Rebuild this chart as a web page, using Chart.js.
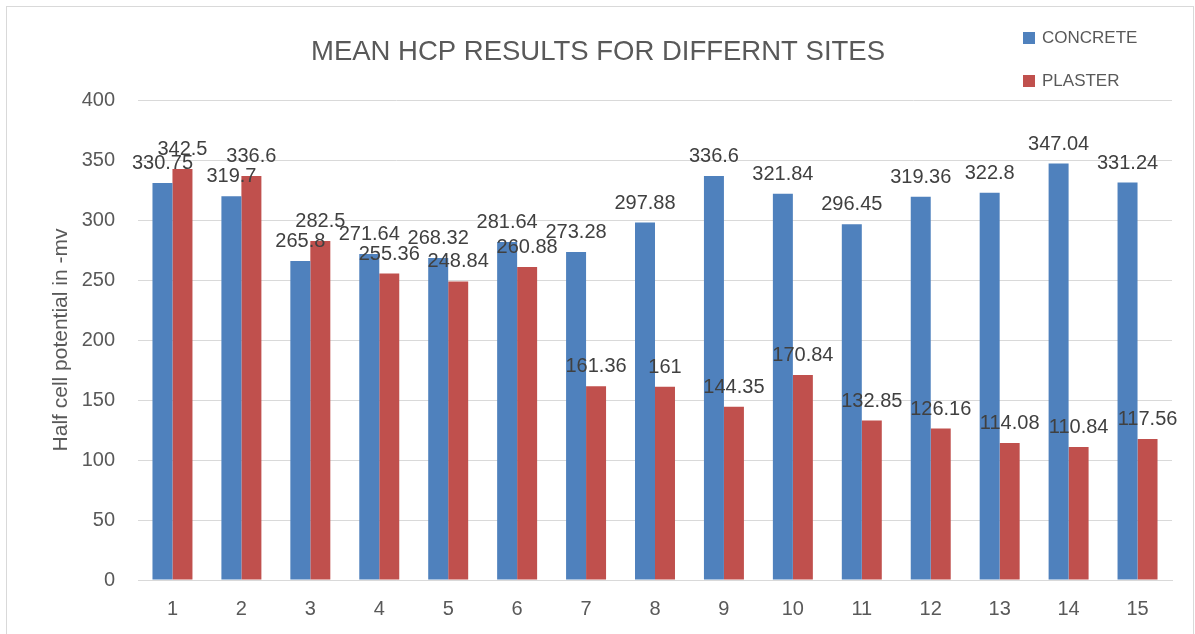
<!DOCTYPE html>
<html>
<head>
<meta charset="utf-8">
<script src="https://cdn.jsdelivr.net/npm/chart.js@4/dist/chart.umd.min.js"></script>
<style>
  html, body { margin: 0; padding: 0; background: #fff; }
  canvas { display: block; }
</style>
</head>
<body>
<canvas id="hcpChart" width="1195" height="634"></canvas>
<script>
// site numbers
const sites = ['1', '2', '3', '4', '5', '6', '7', '8', '9', '10', '11', '12', '13', '14', '15'];

// mean half cell potential (-mv)
const concrete = [330.75, 319.7, 265.8, 271.64, 268.32, 281.64, 273.28, 297.88, 336.6, 321.84, 296.45, 319.36, 322.8, 347.04, 331.24];
const plaster = [342.5, 336.6, 282.5, 255.36, 248.84, 260.88, 161.36, 161, 144.35, 170.84, 132.85, 126.16, 114.08, 110.84, 117.56];

const yTicks = [0, 50, 100, 150, 200, 250, 300, 350, 400];

const chartTitle = 'MEAN HCP RESULTS FOR DIFFERNT SITES';
const FONT = "'Liberation Sans', Arial, sans-serif";

// title, legend, outer frame and the value labels
const decorPlugin = {
    id: 'decor',
    afterDraw(chart) {
        const ctx = chart.ctx;
        ctx.save();

        // outer frame
        ctx.strokeStyle = '#d9d9d9';
        ctx.lineWidth = 1;
        ctx.strokeRect(6.5, 6.5, 1187, 660);

        // title
        ctx.fillStyle = '#595959';
        ctx.font = '28px ' + FONT;
        ctx.textAlign = 'center';
        ctx.textBaseline = 'alphabetic';
        ctx.fillText(chartTitle, 598, 60, 574);

        // legend
        ctx.font = '17px ' + FONT;
        ctx.textAlign = 'left';
        ctx.textBaseline = 'middle';
        chart.data.datasets.forEach((ds, i) => {
            const y = 38 + i * 43;
            ctx.fillStyle = ds.backgroundColor;
            ctx.fillRect(1023, y - 6, 12, 12);
            ctx.fillStyle = '#595959';
            ctx.fillText(ds.label, 1042, y);
        });

        // data labels
        ctx.font = '20px ' + FONT;
        ctx.fillStyle = '#404040';
        ctx.textAlign = 'center';
        ctx.textBaseline = 'alphabetic';
        chart.data.datasets.forEach((ds, i) => {
            const meta = chart.getDatasetMeta(i);
            meta.data.forEach((bar, j) => {
                ctx.fillText(String(ds.data[j]), bar.x, bar.y - 14);
            });
        });

        ctx.restore();
    }
};

new Chart(document.getElementById('hcpChart'), {
    type: 'bar',
    data: {
        labels: sites,
        datasets: [
            { label: 'CONCRETE', data: concrete, backgroundColor: '#4f81bd' },
            { label: 'PLASTER', data: plaster, backgroundColor: '#c0504d' }
        ]
    },
    options: {
        responsive: false,
        animation: false,
        devicePixelRatio: 1,
        layout: { padding: { top: 100, right: 23, left: 0, bottom: 0 } },
        datasets: {
            bar: { categoryPercentage: 0.58, barPercentage: 1.0 }
        },
        plugins: {
            legend: { display: false },
            title: { display: false },
            tooltip: { enabled: false }
        },
        scales: {
            x: {
                grid: { display: false, drawTicks: false },
                border: { display: true, color: '#d9d9d9' },
                ticks: { color: '#595959', font: { size: 20, family: FONT }, padding: 17 },
                afterFit(scale) { scale.height = 54; }
            },
            y: {
                min: 0,
                max: 400,
                afterBuildTicks(scale) { scale.ticks = yTicks.map(v => ({ value: v })); },
                grid: { color: '#d9d9d9', drawTicks: false },
                border: { display: false },
                ticks: { color: '#595959', font: { size: 20, family: FONT }, padding: 23 },
                title: {
                    display: true,
                    text: 'Half cell potential in -mv',
                    color: '#595959',
                    font: { size: 21, family: FONT },
                    padding: { top: 49, bottom: 0 }
                },
                afterFit(scale) { scale.width = 138; }
            }
        }
    },
    plugins: [decorPlugin]
});
</script>
</body>
</html>
